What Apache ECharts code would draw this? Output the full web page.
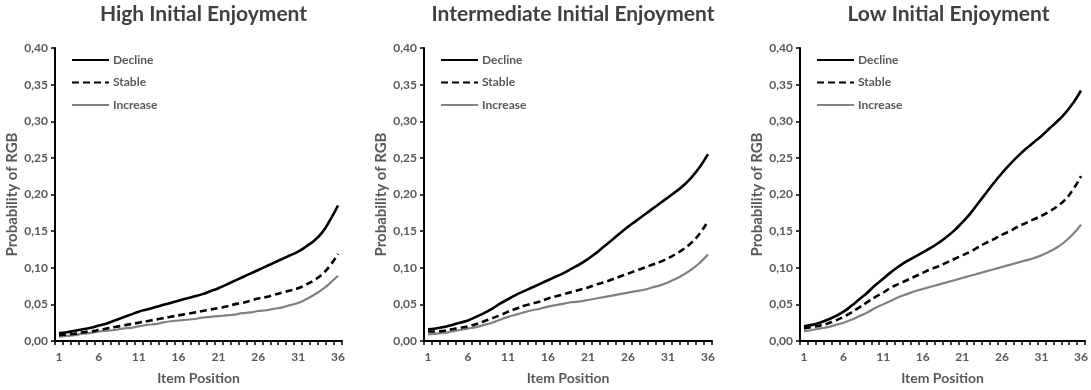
<!DOCTYPE html>
<html>
<head>
<meta charset="utf-8">
<script src="https://cdn.jsdelivr.net/npm/echarts@6/dist/echarts.min.js"></script>
<style>
  html, body { margin: 0; padding: 0; background: #fff; }
  #chart { width: 1091px; height: 390px; }
</style>
</head>
<body>
<div id="chart"></div>
<script>
var positions = [];
for (var i = 1; i <= 36; i++) positions.push(String(i));

var panelTitles = ['High Initial Enjoyment', 'Intermediate Initial Enjoyment', 'Low Initial Enjoyment'];
var seriesNames = ['Decline', 'Stable', 'Increase'];

// High initial enjoyment
var highDecline = [.011,.012,.014,.016,.018,.021,.024,.028,.032,.036,.040,.043,.046,.049,.052,.055,.058,.061,.064,.068,.072,.077,.082,.087,.092,.097,.102,.107,.112,.117,.122,.129,.137,.148,.165,.185];
var highStable = [.008,.009,.010,.012,.013,.015,.017,.019,.021,.023,.025,.027,.029,.031,.033,.035,.037,.039,.041,.043,.045,.047,.050,.052,.055,.058,.060,.063,.066,.069,.072,.077,.083,.091,.103,.119];
var highIncrease = [.006,.007,.008,.010,.011,.013,.014,.015,.017,.018,.020,.022,.023,.025,.027,.028,.029,.030,.032,.033,.034,.035,.036,.038,.039,.041,.042,.044,.046,.049,.052,.057,.063,.070,.079,.089];

// Intermediate initial enjoyment
var midDecline = [.016,.017,.019,.022,.025,.028,.033,.038,.044,.051,.057,.063,.068,.073,.078,.083,.088,.093,.099,.105,.112,.120,.129,.138,.147,.156,.164,.172,.180,.188,.196,.204,.213,.224,.238,.255];
var midStable = [.013,.013,.014,.016,.018,.020,.023,.027,.031,.035,.040,.044,.048,.051,.054,.058,.061,.064,.067,.070,.073,.077,.080,.084,.088,.092,.096,.100,.104,.108,.113,.119,.126,.135,.147,.164];
var midIncrease = [.009,.010,.011,.013,.015,.017,.019,.022,.025,.029,.033,.036,.039,.042,.044,.047,.049,.051,.053,.054,.056,.058,.060,.062,.064,.066,.068,.070,.073,.076,.080,.085,.091,.098,.107,.118];

// Low initial enjoyment
var lowDecline = [.020,.022,.025,.029,.034,.040,.048,.057,.066,.076,.085,.094,.102,.109,.115,.121,.127,.134,.142,.151,.162,.174,.188,.202,.216,.229,.241,.252,.262,.271,.280,.290,.300,.311,.325,.342];
var lowStable = [.017,.019,.021,.024,.028,.033,.039,.046,.053,.060,.066,.073,.078,.083,.088,.093,.098,.102,.107,.112,.117,.122,.128,.134,.139,.145,.150,.156,.161,.166,.171,.177,.184,.193,.207,.225];
var lowIncrease = [.013,.015,.017,.019,.022,.025,.029,.034,.039,.045,.050,.055,.060,.064,.068,.071,.074,.077,.080,.083,.086,.089,.092,.095,.098,.101,.104,.107,.110,.113,.117,.122,.128,.136,.146,.159];

var panelData = [
  [highDecline, highStable, highIncrease],
  [midDecline, midStable, midIncrease],
  [lowDecline, lowStable, lowIncrease]
];

var font = 'Lato';
var textGray = '#595959';
// left edge and width of each plot area
var gridLeft = [55, 424, 800];
var gridWidth = [287, 288, 287];

var lineStyles = [
  { color: '#000000', width: 2.6, type: 'solid' },
  { color: '#000000', width: 2.6, type: [7, 4] },
  { color: '#808080', width: 2.2, type: 'solid' }
];

var grids = [], xAxes = [], yAxes = [], series = [], titles = [], legends = [];

for (var p = 0; p < 3; p++) {
  grids.push({ left: gridLeft[p], width: gridWidth[p], top: 48, height: 295 });

  titles.push({
    text: panelTitles[p],
    left: gridLeft[p] + gridWidth[p] / 2,
    textAlign: 'center',
    top: -1,
    textStyle: { fontFamily: font, fontWeight: 'bold', fontSize: 21, color: '#404040' }
  });

  legends.push({
    data: seriesNames,
    orient: 'vertical',
    left: gridLeft[p] + 16,
    top: 54,
    padding: 0,
    itemWidth: 37,
    itemHeight: 12,
    itemGap: 10.5,
    itemStyle: { opacity: 0 },
    textStyle: { fontFamily: font, fontWeight: 'bold', fontSize: 12, color: textGray, padding: [0, 0, 0, -1] }
  });

  xAxes.push({
    type: 'category',
    gridIndex: p,
    data: positions,
    boundaryGap: true,
    name: 'Item Position',
    nameLocation: 'middle',
    nameGap: 30,
    nameTextStyle: { fontFamily: font, fontWeight: 'bold', fontSize: 14, color: textGray },
    axisLine: { lineStyle: { color: '#000', width: 2 } },
    axisTick: { show: true, interval: 0, length: 4, lineStyle: { color: '#000', width: 1.5 } },
    axisLabel: { interval: 4, margin: 10, fontFamily: font, fontWeight: 'bold', fontSize: 12, color: textGray },
    splitLine: { show: false }
  });

  yAxes.push({
    type: 'value',
    gridIndex: p,
    min: 0,
    max: 0.4,
    interval: 0.05,
    name: 'Probability of RGB',
    nameLocation: 'middle',
    nameGap: 35,
    nameTextStyle: { fontFamily: font, fontWeight: 'bold', fontSize: 15, color: textGray },
    axisLine: { show: true, lineStyle: { color: '#000', width: 2 } },
    axisTick: { show: true, length: 4, lineStyle: { color: '#000', width: 1.5 } },
    axisLabel: {
      fontFamily: font, fontWeight: 'bold', fontSize: 12, color: textGray, margin: 7,
      formatter: function (v) { return v.toFixed(2).replace('.', ','); }
    },
    splitLine: { show: false }
  });

  for (var s = 0; s < 3; s++) {
    series.push({
      name: seriesNames[s],
      type: 'line',
      xAxisIndex: p,
      yAxisIndex: p,
      data: panelData[p][s],
      smooth: true,
      symbol: 'none',
      color: lineStyles[s].color,
      lineStyle: lineStyles[s],
      z: 3 - s
    });
  }
}

var myChart = echarts.init(document.getElementById('chart'));
myChart.setOption({
  animation: false,
  backgroundColor: '#ffffff',
  title: titles,
  legend: legends,
  grid: grids,
  xAxis: xAxes,
  yAxis: yAxes,
  series: series
});
</script>
</body>
</html>
